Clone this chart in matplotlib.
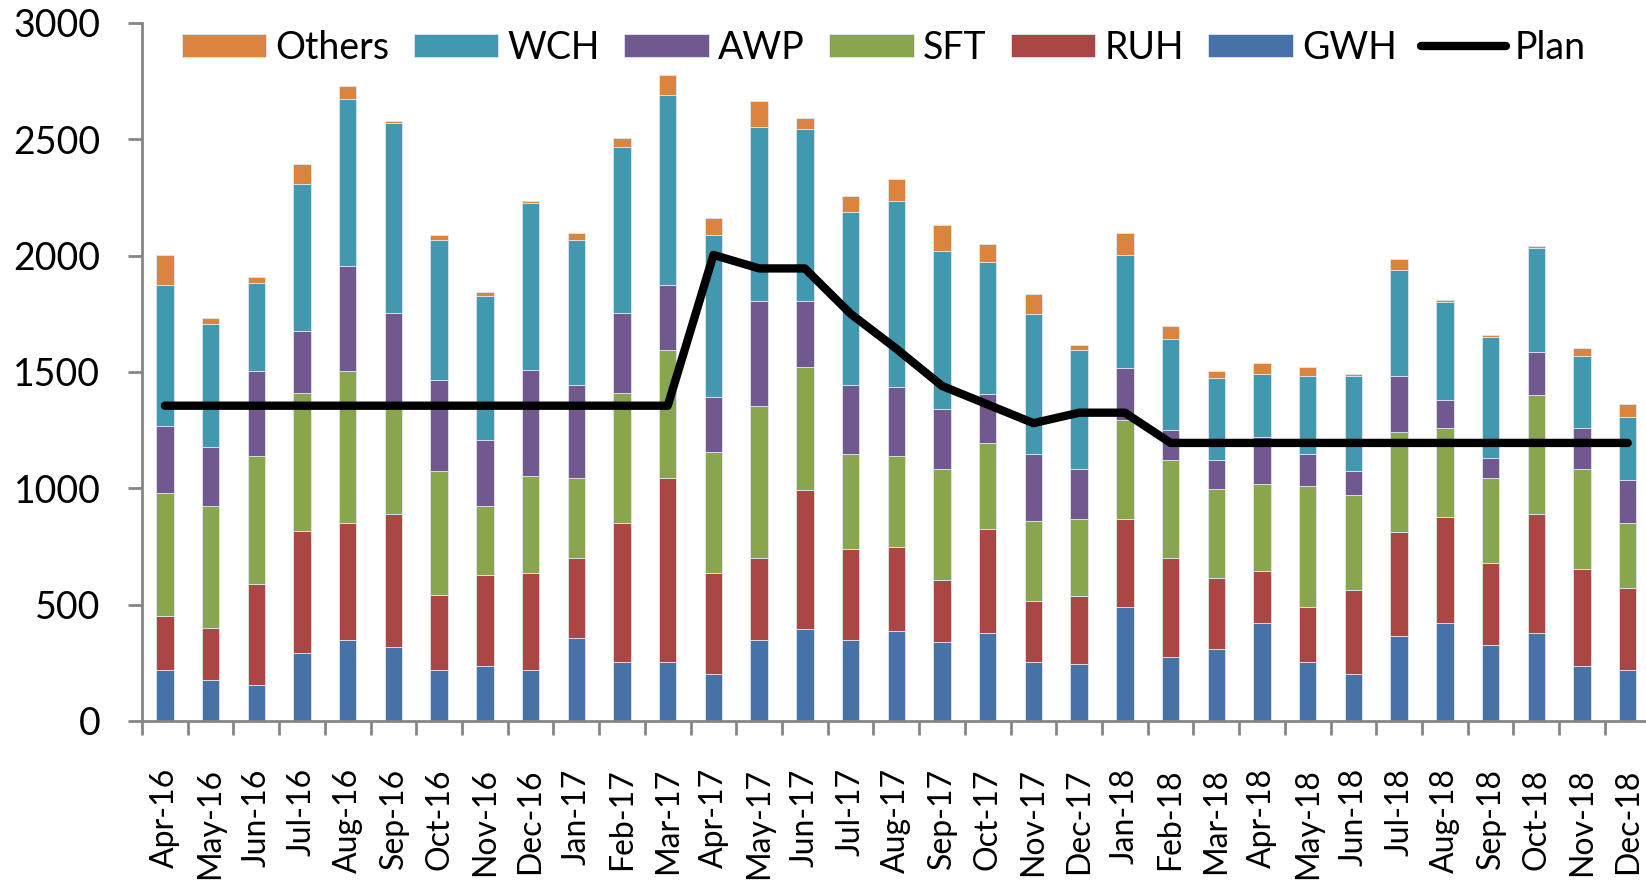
import matplotlib
matplotlib.use("Agg")
import numpy as np
import matplotlib.pyplot as plt

months = ["Apr-16", "May-16", "Jun-16", "Jul-16", "Aug-16", "Sep-16", "Oct-16", "Nov-16", "Dec-16",
          "Jan-17", "Feb-17", "Mar-17", "Apr-17", "May-17", "Jun-17", "Jul-17", "Aug-17", "Sep-17",
          "Oct-17", "Nov-17", "Dec-17", "Jan-18", "Feb-18", "Mar-18", "Apr-18", "May-18", "Jun-18",
          "Jul-18", "Aug-18", "Sep-18", "Oct-18", "Nov-18", "Dec-18"]

gwh = [219, 178, 154, 292, 349, 320, 219, 237, 219, 357, 255, 255, 201, 349, 395, 349, 385,
       341, 377, 255, 245, 489, 274, 310, 422, 255, 201, 367, 422, 328, 377, 237, 219]
ruh = [231, 223, 436, 523, 502, 568, 324, 391, 417, 344, 596, 791, 435, 352, 596, 389, 363,
       267, 446, 260, 290, 379, 427, 306, 223, 234, 360, 446, 456, 353, 511, 418, 353]
sft = [529, 525, 549, 594, 651, 472, 531, 298, 418, 345, 558, 547, 521, 653, 529, 409, 391,
       474, 371, 344, 333, 425, 420, 383, 373, 520, 410, 430, 381, 365, 511, 427, 279]
awp = [290, 250, 363, 269, 454, 393, 390, 280, 456, 399, 344, 282, 234, 452, 286, 298, 298,
       260, 213, 288, 214, 225, 130, 122, 204, 138, 103, 239, 121, 83, 186, 177, 185]
wch = [606, 529, 381, 631, 718, 815, 604, 620, 718, 623, 716, 817, 697, 748, 738, 744, 799,
       679, 567, 604, 513, 485, 391, 351, 270, 335, 408, 456, 420, 521, 446, 308, 269]
others = [128, 28, 26, 85, 54, 12, 20, 19, 8, 30, 38, 85, 73, 111, 47, 67, 93,
          112, 75, 85, 19, 93, 55, 30, 47, 38, 10, 46, 8, 8, 10, 38, 57]
plan = [1355, 1355, 1355, 1355, 1355, 1355, 1355, 1355, 1355, 1355, 1355, 1355, 2003, 1945,
        1945, 1750, 1600, 1440, 1360, 1280, 1325, 1325, 1195, 1195, 1195, 1195, 1195, 1195,
        1195, 1195, 1195, 1195, 1195]

series = [("GWH", gwh, "#4672A8"), ("RUH", ruh, "#AA4644"), ("SFT", sft, "#89A54E"),
          ("AWP", awp, "#71588F"), ("WCH", wch, "#4298AF"), ("Others", others, "#DB843D")]

plt.rcParams["font.family"] = ["Lato", "DejaVu Sans"]

fig = plt.figure(figsize=(16.46, 8.83), dpi=100)
ax = fig.add_axes([0.0863, 0.1835, 0.9137, 0.7905])

x = np.arange(len(months))
bottom = np.zeros(len(months))
handles = {}
for name, values, color in series:
    bars = ax.bar(x, values, width=0.38, bottom=bottom, color=color,
                  edgecolor="#dfe6ee", linewidth=0.6, label=name, zorder=2)
    handles[name] = bars
    bottom += np.array(values)

line, = ax.plot(x, plan, color="black", linewidth=6, solid_capstyle="round",
                solid_joinstyle="round", label="Plan", zorder=3)
handles["Plan"] = line

ax.set_xlim(-0.5, 32.4)
ax.set_ylim(0, 3000)
ax.set_yticks(range(0, 3001, 500))

ax.set_xticks(x)
ax.set_xticklabels(months, rotation=90, fontsize=23)
ax.set_xticks(np.arange(-0.5, 32.5, 1), minor=True)
ax.tick_params(axis="x", which="major", length=0, pad=34)
ax.tick_params(axis="x", which="minor", length=10, width=2, color="#868686")
ax.tick_params(axis="y", length=10, width=2, color="#868686", labelsize=27, pad=20)

for side in ["top", "right"]:
    ax.spines[side].set_visible(False)
for side in ["left", "bottom"]:
    ax.spines[side].set_color("#868686")
    ax.spines[side].set_linewidth(2)

order = ["Others", "WCH", "AWP", "SFT", "RUH", "GWH", "Plan"]
fig.legend([handles[k] for k in order], order, loc="center", bbox_to_anchor=(0.537, 0.946),
           ncol=7, frameon=False, fontsize=27, handlelength=2.25, handleheight=0.55,
           handletextpad=0.25, columnspacing=0.65)

fig.savefig("out.png", dpi=100)
plt.close(fig)
